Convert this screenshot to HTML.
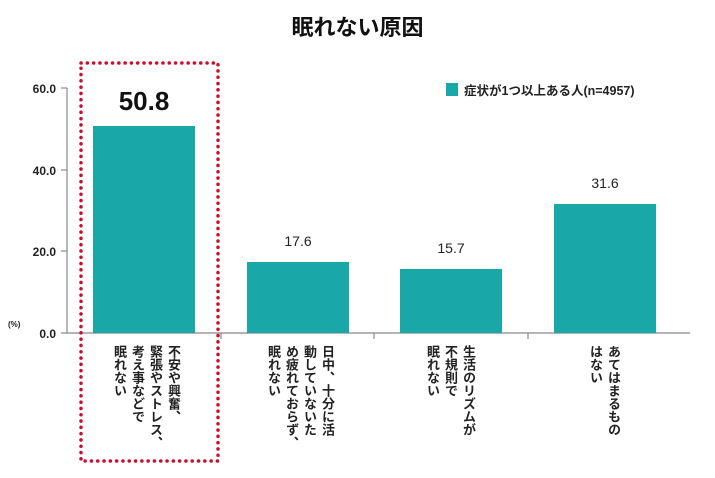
<!DOCTYPE html>
<html><head><meta charset="utf-8"><style>
body{margin:0;background:#fff;width:715px;height:478px;overflow:hidden;position:relative;font-family:"Liberation Sans","Noto Sans CJK JP",sans-serif;}
.a{position:absolute}
.v{position:absolute;writing-mode:vertical-rl;font-size:13px;line-height:18px;font-weight:bold;color:#222;white-space:nowrap}
</style></head><body>
<div class="a" style="left:0;width:715px;top:10px;text-align:center;font-size:22px;font-weight:bold;color:#111">眠れない原因</div>
<svg class="a" style="left:0;top:0" width="715" height="478">
<g stroke="#888" stroke-width="1.2">
<line x1="67" y1="88" x2="67" y2="333"/>
<line x1="67" y1="333" x2="690" y2="333"/>
<line x1="61" y1="88" x2="67" y2="88"/><line x1="61" y1="170" x2="67" y2="170"/>
<line x1="61" y1="251" x2="67" y2="251"/><line x1="61" y1="333" x2="67" y2="333"/>
<line x1="221" y1="333" x2="221" y2="339"/><line x1="374" y1="333" x2="374" y2="339"/>
<line x1="528" y1="333" x2="528" y2="339"/>
</g>
<g fill="#1aa7a8">
<rect x="93" y="126" width="102" height="207"/>
<rect x="247" y="262" width="102" height="71"/>
<rect x="400" y="269" width="102" height="64"/>
<rect x="554" y="204" width="102" height="129"/>
<rect x="446" y="83" width="12" height="13"/>
</g>
<rect x="81" y="63" width="137" height="398" fill="none" stroke="#c8102e" stroke-width="3.5" stroke-dasharray="0.1 6.2" stroke-linecap="round"/>
<g font-size="12" font-weight="bold" fill="#222" text-anchor="end">
<text x="56" y="93">60.0</text><text x="56" y="175">40.0</text>
<text x="56" y="256">20.0</text><text x="56" y="338">0.0</text>
</g>
<text x="8" y="327" font-size="8" font-weight="bold" fill="#222">(%)</text>
<text x="144" y="110" font-size="26" font-weight="bold" text-anchor="middle" fill="#111">50.8</text>
<g font-size="14" text-anchor="middle" fill="#222">
<text x="298" y="246">17.6</text><text x="451" y="253">15.7</text><text x="605" y="188">31.6</text>
</g>
<text x="464" y="95" font-size="12.5" font-weight="bold" fill="#222">症状が1つ以上ある人(n=4957)</text>
</svg>
<div class="v" style="right:533px;top:345px">不安や興奮、<br>緊張やストレス、<br>考え事などで<br>眠れない</div>
<div class="v" style="right:379px;top:345px">日中、十分に活<br>動していないた<br>め疲れておらず、<br>眠れない</div>
<div class="v" style="right:238px;top:345px">生活のリズムが<br>不規則で<br>眠れない</div>
<div class="v" style="right:93px;top:345px">あてはまるもの<br>はない</div>
</body></html>
